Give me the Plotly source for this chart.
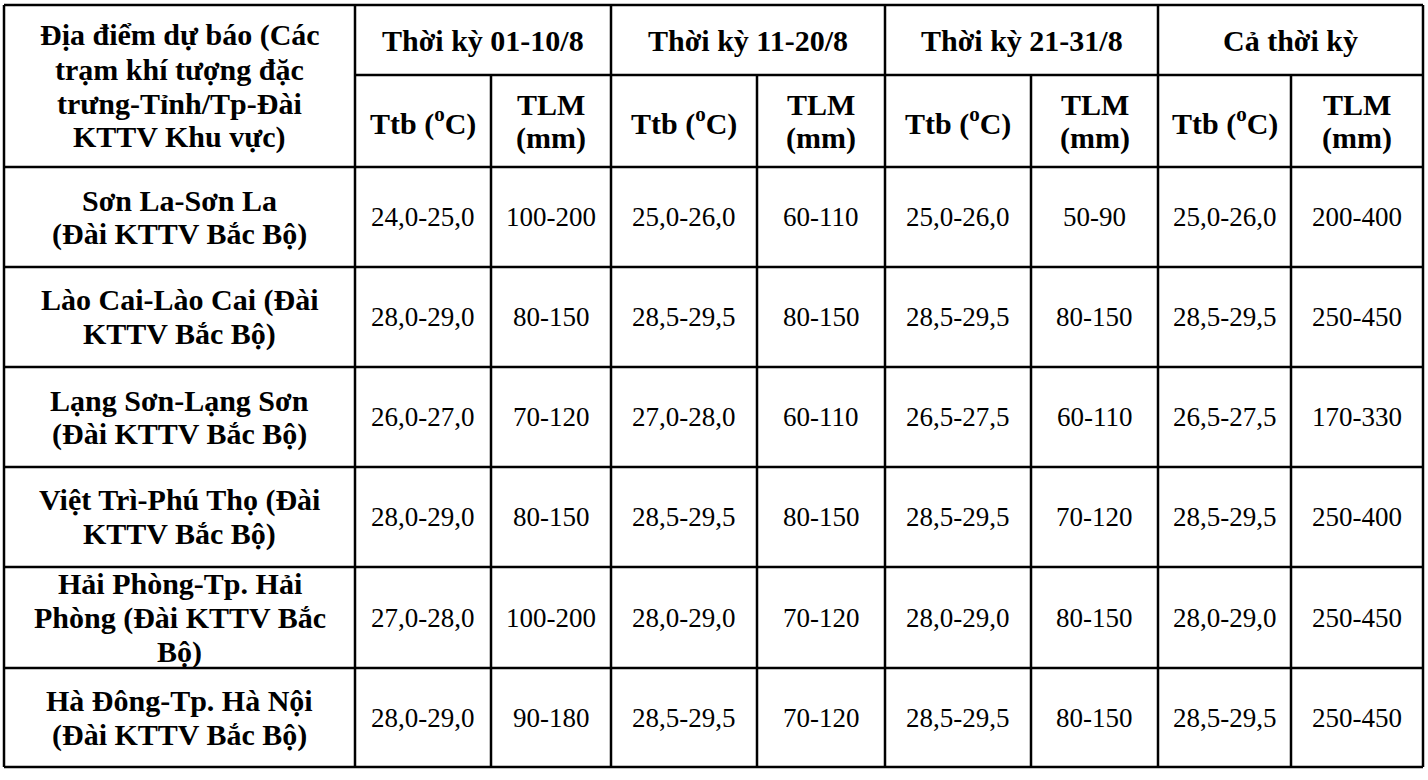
import plotly.graph_objects as go

# table content
stations = [
    "Sơn La-Sơn La<br>(Đài KTTV Bắc Bộ)",
    "Lào Cai-Lào Cai (Đài<br>KTTV Bắc Bộ)",
    "Lạng Sơn-Lạng Sơn<br>(Đài KTTV Bắc Bộ)",
    "Việt Trì-Phú Thọ (Đài<br>KTTV Bắc Bộ)",
    "Hải Phòng-Tp. Hải<br>Phòng (Đài KTTV Bắc<br>Bộ)",
    "Hà Đông-Tp. Hà Nội<br>(Đài KTTV Bắc Bộ)",
]
periods = ["Thời kỳ 01-10/8", "Thời kỳ 11-20/8", "Thời kỳ 21-31/8", "Cả thời kỳ"]
station_header = "Địa điểm dự báo (Các<br>trạm khí tượng đặc<br>trưng-Tỉnh/Tp-Đài<br>KTTV Khu vực)"
sub_headers = ["Ttb (<sup>o</sup>C)", "TLM<br>(mm)"]

ttb_01_10 = ["24,0-25,0", "28,0-29,0", "26,0-27,0", "28,0-29,0", "27,0-28,0", "28,0-29,0"]
tlm_01_10 = ["100-200", "80-150", "70-120", "80-150", "100-200", "90-180"]
ttb_11_20 = ["25,0-26,0", "28,5-29,5", "27,0-28,0", "28,5-29,5", "28,0-29,0", "28,5-29,5"]
tlm_11_20 = ["60-110", "80-150", "60-110", "80-150", "70-120", "70-120"]
ttb_21_31 = ["25,0-26,0", "28,5-29,5", "26,5-27,5", "28,5-29,5", "28,0-29,0", "28,5-29,5"]
tlm_21_31 = ["50-90", "80-150", "60-110", "70-120", "80-150", "80-150"]
ttb_all = ["25,0-26,0", "28,5-29,5", "26,5-27,5", "28,5-29,5", "28,0-29,0", "28,5-29,5"]
tlm_all = ["200-400", "250-450", "170-330", "250-400", "250-450", "250-450"]

# grid geometry (pixels)
col_edges = [4, 355, 491, 611, 757, 885, 1031, 1158, 1291, 1423]
row_edges = [5, 75, 167, 267, 367, 467, 567, 668, 767]
line_gap = 34
font_family = "Liberation Serif, Times New Roman, serif"
bold_size = 30
regular_size = 27
line_w = 2.5


def add_cell_text(fig, text, x0, x1, y0, y1, bold, size):
    lines = text.split("<br>")
    xc = (x0 + x1) / 2
    yc = (y0 + y1) / 2
    n = len(lines)
    for i, line in enumerate(lines):
        fig.add_annotation(
            x=xc, y=yc + (i - (n - 1) / 2) * line_gap,
            xref="x", yref="y", text=line, showarrow=False,
            xanchor="center", yanchor="middle",
            font=dict(family=font_family, size=size, color="black",
                      weight="bold" if bold else "normal"),
        )


def add_line(fig, x0, y0, x1, y1):
    fig.add_shape(type="line", x0=x0, y0=y0, x1=x1, y1=y1, xref="x", yref="y",
                  line=dict(color="black", width=line_w))


def main():
    columns = [ttb_01_10, tlm_01_10, ttb_11_20, tlm_11_20,
               ttb_21_31, tlm_21_31, ttb_all, tlm_all]
    fig = go.Figure()

    top, split, head_bot, bottom = row_edges[0], row_edges[1], row_edges[2], row_edges[-1]
    left, right = col_edges[0], col_edges[-1]

    # horizontal lines
    add_line(fig, left, top, right, top)
    add_line(fig, col_edges[1], split, right, split)
    for y in row_edges[2:]:
        add_line(fig, left, y, right, y)
    # vertical lines (Ttb/TLM dividers start below the period row)
    for i, x in enumerate(col_edges):
        if i >= 2 and i % 2 == 0:
            add_line(fig, x, split, x, bottom)
        else:
            add_line(fig, x, top, x, bottom)

    # header
    add_cell_text(fig, station_header, col_edges[0], col_edges[1], top, head_bot, True, bold_size)
    for p, name in enumerate(periods):
        x0, x1 = col_edges[1 + 2 * p], col_edges[3 + 2 * p]
        add_cell_text(fig, name, x0, x1, top, split, True, bold_size)
        for k in range(2):
            add_cell_text(fig, sub_headers[k], col_edges[1 + 2 * p + k], col_edges[2 + 2 * p + k],
                          split, head_bot, True, bold_size)

    # body
    for r, st in enumerate(stations):
        y0, y1 = row_edges[2 + r], row_edges[3 + r]
        add_cell_text(fig, st, col_edges[0], col_edges[1], y0, y1, True, bold_size)
        for c, col in enumerate(columns):
            add_cell_text(fig, col[r], col_edges[1 + c], col_edges[2 + c], y0, y1, False, regular_size)

    fig.update_xaxes(range=[0, 1428], visible=False, fixedrange=True)
    fig.update_yaxes(range=[780, 0], visible=False, fixedrange=True)
    fig.update_layout(width=1428, height=780, margin=dict(l=0, r=0, t=0, b=0),
                      plot_bgcolor="white", paper_bgcolor="white", showlegend=False)
    fig.write_html("out.html", config={"displayModeBar": False},
                   post_script="document.body.style.margin='0';")


if __name__ == '__main__':
    main()
